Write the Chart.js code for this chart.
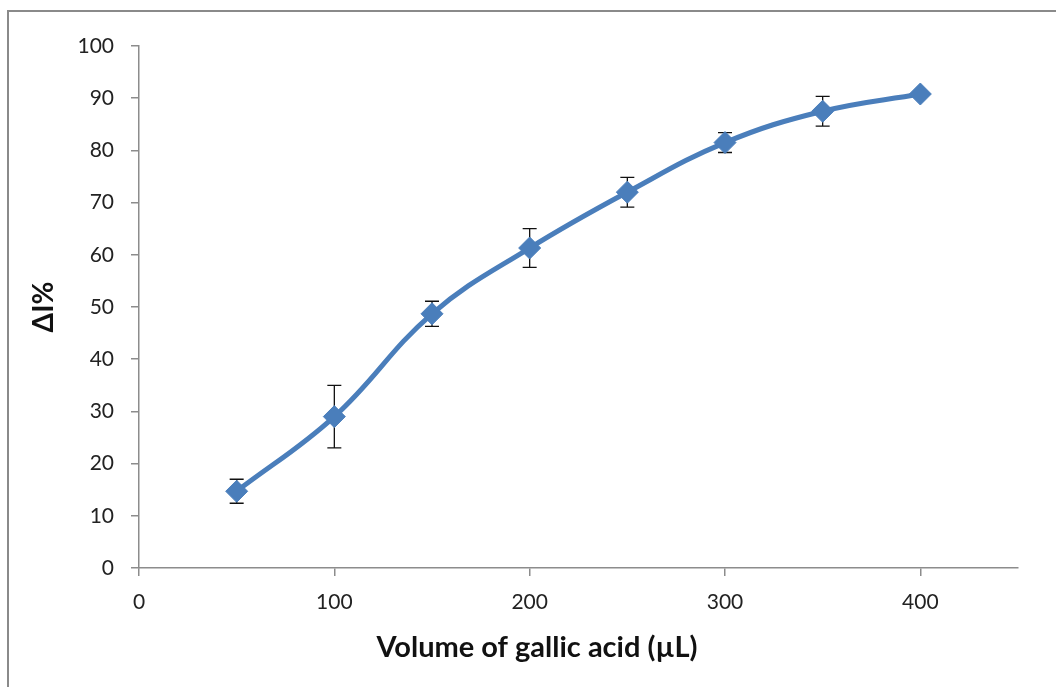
<!DOCTYPE html>
<html>
<head>
<meta charset="utf-8">
<style>
  html, body { margin: 0; padding: 0; background: #ffffff; }
  #wrap { position: relative; width: 1056px; height: 687px; }
  canvas { display: block; }
</style>
<script src="https://cdn.jsdelivr.net/npm/chart.js@4.4.0/dist/chart.umd.min.js"></script>
</head>
<body>
<div id="wrap"><canvas id="c" width="1056" height="687"></canvas></div>
<script>
// Gallic acid volume (µL) vs. ΔI%
const volumes = [50, 100, 150, 200, 250, 300, 350, 400];
const deltaI  = [14.7, 29.0, 48.7, 61.3, 72.0, 81.5, 87.5, 90.8];
const errorBars = [2.3, 6.0, 2.4, 3.7, 2.85, 1.9, 2.85, 0];
const xTickValues = [0, 100, 200, 300, 400];
const yTickValues = [0, 10, 20, 30, 40, 50, 60, 70, 80, 90, 100];
const xAxisTitle = 'Volume of gallic acid (µL)';
const yAxisTitle = 'ΔI%';

const FONT = "Lato, 'Open Sans', 'Liberation Sans', sans-serif";
const AXIS_GREY = '#8c8c8c';

// Outer chart frame (left and top edges) and the x-axis title,
// which is centred on the whole frame rather than the plot area
const framePlugin = {
  id: 'frame',
  beforeDraw(chart) {
    const ctx = chart.ctx;
    ctx.save();
    ctx.strokeStyle = '#8a8a8a';
    ctx.lineWidth = 2;
    ctx.beginPath();
    ctx.moveTo(8, 700);
    ctx.lineTo(8, 11);
    ctx.lineTo(1070, 11);
    ctx.stroke();
    ctx.restore();
  },
  afterDraw(chart) {
    const ctx = chart.ctx;
    ctx.save();
    ctx.fillStyle = '#111111';
    ctx.font = "bold 29px " + FONT;
    ctx.textAlign = 'center';
    ctx.textBaseline = 'middle';
    ctx.fillText(xAxisTitle, 537, 648);
    ctx.restore();
  }
};

// Vertical error bars with caps, drawn beneath the line and markers
const errorBarPlugin = {
  id: 'errorBars',
  beforeDatasetsDraw(chart) {
    const ctx = chart.ctx;
    const xs = chart.scales.x, ys = chart.scales.y;
    ctx.save();
    ctx.strokeStyle = '#111111';
    ctx.lineWidth = 1.3;
    volumes.forEach((v, i) => {
      const e = errorBars[i];
      if (!e) return;
      const px = xs.getPixelForValue(v);
      const top = ys.getPixelForValue(deltaI[i] + e);
      const bot = ys.getPixelForValue(deltaI[i] - e);
      ctx.beginPath();
      ctx.moveTo(px, top); ctx.lineTo(px, bot);
      ctx.moveTo(px - 7, top); ctx.lineTo(px + 7, top);
      ctx.moveTo(px - 7, bot); ctx.lineTo(px + 7, bot);
      ctx.stroke();
    });
    ctx.restore();
  }
};

new Chart(document.getElementById('c'), {
  type: 'scatter',
  data: {
    datasets: [{
      data: volumes.map((v, i) => ({ x: v, y: deltaI[i] })),
      showLine: true,
      borderColor: '#4a7ebb',
      borderWidth: 5,
      tension: 0.4,
      pointStyle: 'rectRot',
      pointRadius: 11,
      pointHoverRadius: 11,
      pointBackgroundColor: '#4a7ebb',
      pointBorderColor: '#4a7ebb',
      pointBorderWidth: 1
    }]
  },
  options: {
    responsive: false,
    animation: false,
    devicePixelRatio: 1,
    layout: { padding: { top: 46, right: 38, left: 27, bottom: 0 } },
    plugins: {
      legend: { display: false },
      tooltip: { enabled: false }
    },
    scales: {
      x: {
        type: 'linear',
        min: 0, max: 450,
        afterBuildTicks(scale) {
          scale.ticks = xTickValues.map(v => ({ value: v }));
        },
        afterFit(scale) { scale.height = 119; },
        grid: {
          drawOnChartArea: false,
          drawTicks: true,
          tickLength: 8,
          color: AXIS_GREY,
          lineWidth: 1.5
        },
        border: { display: true, color: AXIS_GREY, width: 1.5 },
        ticks: {
          color: '#222222',
          font: { family: FONT, size: 21 },
          padding: 14,
          maxRotation: 0
        },
        title: { display: false }
      },
      y: {
        type: 'linear',
        min: 0, max: 100,
        afterBuildTicks(scale) {
          scale.ticks = yTickValues.map(v => ({ value: v }));
        },
        afterFit(scale) { scale.width = 112; },
        grid: {
          drawOnChartArea: false,
          drawTicks: true,
          tickLength: 8,
          color: AXIS_GREY,
          lineWidth: 1.5
        },
        border: { display: true, color: AXIS_GREY, width: 1.5 },
        ticks: {
          color: '#222222',
          font: { family: FONT, size: 21 },
          padding: 17
        },
        title: {
          display: true,
          text: yAxisTitle,
          color: '#111111',
          font: { family: FONT, size: 28, weight: 'bold' },
          padding: { top: 0, bottom: 0 }
        }
      }
    }
  },
  plugins: [framePlugin, errorBarPlugin]
});
</script>
</body>
</html>
